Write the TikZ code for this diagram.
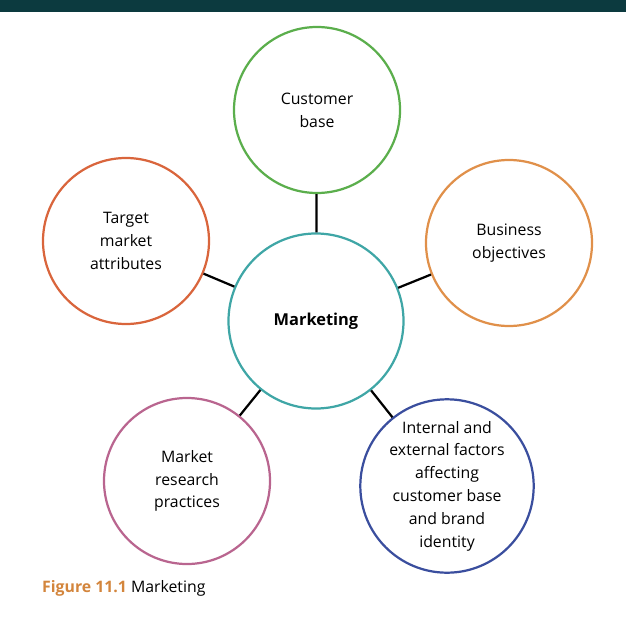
\documentclass[tikz,border=0pt]{standalone}
\usepackage{fontspec}
\setmainfont{Open Sans}
\usepackage{xcolor}
\usepackage{tikz}
\usetikzlibrary{positioning}

\definecolor{topbar}{HTML}{0C3A3F}
\definecolor{mktteal}{HTML}{3FA6A6}
\definecolor{custgreen}{HTML}{5BAE4C}
\definecolor{targetred}{HTML}{D9653C}
\definecolor{bizorange}{HTML}{E0904A}
\definecolor{researchpink}{HTML}{B9658F}
\definecolor{factorblue}{HTML}{3A4E9E}
\definecolor{captionorange}{HTML}{D3853C}

\begin{document}
\begin{tikzpicture}[x=0.03cm, y=-0.03cm,
  font=\fontsize{13.5}{19.5}\selectfont,
  bubble/.style={circle, draw, line width=1.9pt, minimum size=4.98cm,
    inner sep=0pt, align=center},
  hub/.style={bubble, minimum size=5.25cm},
  link/.style={line width=1.9pt, black}]

  % ----------------------
  % Cornice e barra in alto
  % ----------------------
  \useasboundingbox (0,0) rectangle (626,622);
  \fill[topbar] (0,0) rectangle (626,12);

  % ----------------------
  % Cerchio centrale
  % ----------------------
  \node[hub, draw=mktteal, font=\fontsize{14}{19.5}\selectfont\bfseries] (mkt) at (316,321) {Marketing};

  % ----------------------
  % Cerchi esterni
  % ----------------------
  \node[bubble, draw=custgreen] (cust) at (317,110) {Customer\\base};
  \node[bubble, draw=targetred] (target) at (126,241) {Target\\market\\attributes};
  \node[bubble, draw=bizorange] (biz) at (509,243) {Business\\objectives};
  \node[bubble, draw=researchpink] (research) at (187,481) {Market\\research\\practices};
  \node[bubble, draw=factorblue] (factors) at (447,486)
    {Internal and\\external factors\\affecting\\customer base\\and brand\\identity};

  % ----------------------
  % Collegamenti al centro
  % ----------------------
  \foreach \n in {cust, target, biz, research, factors}{
    \draw[link] (\n) -- (mkt);
  }

  % ----------------------
  % Didascalia
  % ----------------------
  \node[anchor=west, inner sep=0pt, font=\fontsize{13.5}{16}\selectfont] (caption) at (42,588)
    {\textcolor{captionorange}{\bfseries Figure 11.1} Marketing};

\end{tikzpicture}
\end{document}
